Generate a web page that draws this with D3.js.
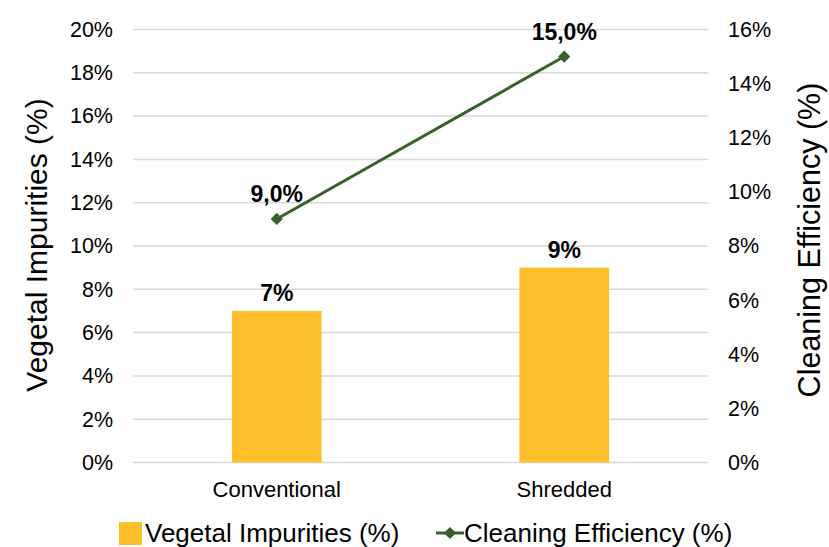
<!DOCTYPE html>
<html><head><meta charset="utf-8">
<script src="https://cdn.jsdelivr.net/npm/d3@7"></script>
<style>
html,body{margin:0;padding:0;background:#fff;}
svg{display:block;font-family:"Liberation Sans",Arial,sans-serif;}
</style></head>
<body><svg id="c" width="829" height="547"></svg>
<script>
const categories = ["Conventional", "Shredded"];
const vegetalImpurities = [0.07, 0.09];
const cleaningEfficiency = [0.09, 0.15];
const barLabels = ["7%", "9%"];
const lineLabels = ["9,0%", "15,0%"];
const leftTicks = [0, 0.02, 0.04, 0.06, 0.08, 0.10, 0.12, 0.14, 0.16, 0.18, 0.20];
const rightTicks = [0, 0.02, 0.04, 0.06, 0.08, 0.10, 0.12, 0.14, 0.16];
const seriesNames = ["Vegetal Impurities (%)", "Cleaning Efficiency (%)"];

const barColor = "#FDBF2D", lineColor = "#38602A", gridColor = "#d9d9d9";
const svg = d3.select("#c");
const L = 133, R = 708, T = 29.5, B = 462.5;

const x = d3.scaleBand().domain(categories).range([L, R]);
const yL = d3.scaleLinear().domain([0, 0.20]).range([B, T]);
const yR = d3.scaleLinear().domain([0, 0.16]).range([B, T]);
const pct = d3.format(".0%");

// gridlines
svg.append("g").selectAll("line").data(leftTicks).join("line")
  .attr("x1", L).attr("x2", R)
  .attr("y1", d => yL(d)).attr("y2", d => yL(d))
  .attr("stroke", gridColor).attr("stroke-width", 1.5);

// left axis
const gl = svg.append("g").attr("transform", `translate(${L},0)`)
  .call(d3.axisLeft(yL).tickValues(leftTicks).tickFormat(pct).tickSize(0).tickPadding(20));
gl.select(".domain").remove();
gl.selectAll("text").attr("font-size", 21.5).attr("fill", "#000").attr("font-family", "Liberation Sans, Arial, sans-serif");

// right axis
const gr = svg.append("g").attr("transform", `translate(${R},0)`)
  .call(d3.axisRight(yR).tickValues(rightTicks).tickFormat(pct).tickSize(0).tickPadding(20));
gr.select(".domain").remove();
gr.selectAll("text").attr("font-size", 21.5).attr("fill", "#000").attr("font-family", "Liberation Sans, Arial, sans-serif");

// x axis labels
const gx = svg.append("g").attr("transform", `translate(0,${B})`)
  .call(d3.axisBottom(x).tickSize(0).tickPadding(19));
gx.select(".domain").remove();
gx.selectAll("text").attr("font-size", 22).attr("fill", "#000").attr("font-family", "Liberation Sans, Arial, sans-serif");

// bars
const bw = x.bandwidth() * 0.312;
svg.append("g").selectAll("rect").data(categories).join("rect")
  .attr("x", d => x(d) + x.bandwidth() / 2 - bw / 2)
  .attr("width", bw)
  .attr("y", (d, i) => yL(vegetalImpurities[i]))
  .attr("height", (d, i) => B - yL(vegetalImpurities[i]))
  .attr("fill", barColor);

svg.append("g").selectAll("text").data(categories).join("text")
  .attr("x", d => x(d) + x.bandwidth() / 2)
  .attr("y", (d, i) => yL(vegetalImpurities[i]) - 10)
  .attr("text-anchor", "middle").attr("font-size", 23).attr("font-weight", "bold")
  .text((d, i) => barLabels[i]);

// line
const line = d3.line().x((d, i) => x(categories[i]) + x.bandwidth() / 2).y(d => yR(d));
svg.append("path").datum(cleaningEfficiency).attr("d", line)
  .attr("fill", "none").attr("stroke", lineColor).attr("stroke-width", 3);
const diamond = d3.symbol().type(d3.symbolDiamond2).size(95);
svg.append("g").selectAll("path").data(cleaningEfficiency).join("path")
  .attr("d", diamond)
  .attr("transform", (d, i) => `translate(${x(categories[i]) + x.bandwidth() / 2},${yR(d)})`)
  .attr("fill", lineColor);
svg.append("g").selectAll("text").data(cleaningEfficiency).join("text")
  .attr("x", (d, i) => x(categories[i]) + x.bandwidth() / 2)
  .attr("y", d => yR(d) - 17)
  .attr("text-anchor", "middle").attr("font-size", 23).attr("font-weight", "bold")
  .text((d, i) => lineLabels[i]);

// axis titles
svg.append("text").attr("transform", "translate(47,245) rotate(-90)")
  .attr("text-anchor", "middle").attr("font-size", 30).text(seriesNames[0]);
svg.append("text").attr("transform", "translate(820,240) rotate(-90)")
  .attr("text-anchor", "middle").attr("font-size", 30.5).text(seriesNames[1]);

// legend
const lg = svg.append("g");
lg.append("rect").attr("x", 119).attr("y", 522).attr("width", 23).attr("height", 23).attr("fill", barColor);
lg.append("text").attr("x", 145).attr("y", 542).attr("font-size", 26).text(seriesNames[0]);
lg.append("line").attr("x1", 436).attr("x2", 464).attr("y1", 533).attr("y2", 533)
  .attr("stroke", lineColor).attr("stroke-width", 3);
lg.append("path").attr("d", diamond).attr("transform", "translate(450,533)").attr("fill", lineColor);
lg.append("text").attr("x", 464).attr("y", 542).attr("font-size", 26).text(seriesNames[1]);
</script></body></html>
